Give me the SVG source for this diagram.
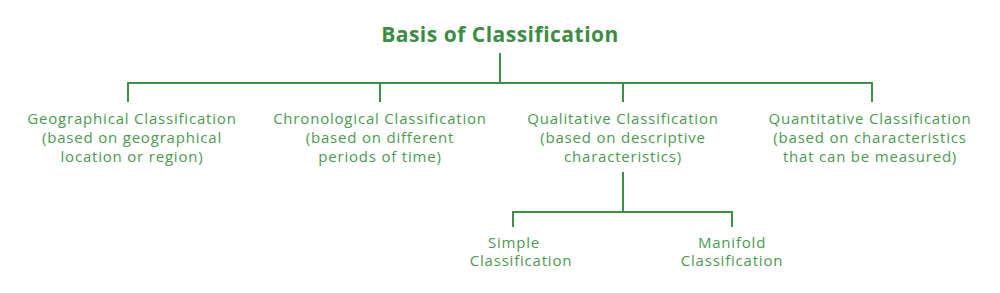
<svg xmlns="http://www.w3.org/2000/svg" width="1000" height="293" viewBox="0 0 1000 293">
<style>
.t{font-family:"Open Sans","Liberation Sans",sans-serif;font-size:15px;letter-spacing:0.8px;fill:#4b9a51;text-anchor:middle}
.title{font-family:"Open Sans","Liberation Sans",sans-serif;font-size:21px;letter-spacing:0.5px;font-weight:bold;fill:#3c8c43;text-anchor:middle}
.c{stroke:#3f8e46;stroke-width:2;fill:none}
</style>
<rect width="1000" height="293" fill="#ffffff"/>
<g id="connectors">
<path class="c" d="M500 53V83M128 83H872M128 82V102M380 82V102M623 82V102M872 82V102"/>
<path class="c" d="M623 172V212M513 212H732M513 211V227M732 211V227"/>
</g>
<g id="root"><text class="title" x="500" y="42">Basis of Classification</text></g>
<g id="geographical">
<text class="t" x="132" y="124">Geographical Classification</text>
<text class="t" x="132" y="143">(based on geographical</text>
<text class="t" x="132" y="162">location or region)</text>
</g>
<g id="chronological">
<text class="t" x="380" y="124">Chronological Classification</text>
<text class="t" x="380" y="143">(based on different</text>
<text class="t" x="380" y="162">periods of time)</text>
</g>
<g id="qualitative">
<text class="t" x="623" y="124">Qualitative Classification</text>
<text class="t" x="623" y="143">(based on descriptive</text>
<text class="t" x="623" y="162">characteristics)</text>
</g>
<g id="quantitative">
<text class="t" x="870" y="124">Quantitative Classification</text>
<text class="t" x="870" y="143">(based on characteristics</text>
<text class="t" x="870" y="162">that can be measured)</text>
</g>
<g id="simple">
<text class="t" x="514" y="248">Simple</text>
<text class="t" x="521" y="266">Classification</text>
</g>
<g id="manifold">
<text class="t" x="732" y="248">Manifold</text>
<text class="t" x="732" y="266">Classification</text>
</g>
</svg>
